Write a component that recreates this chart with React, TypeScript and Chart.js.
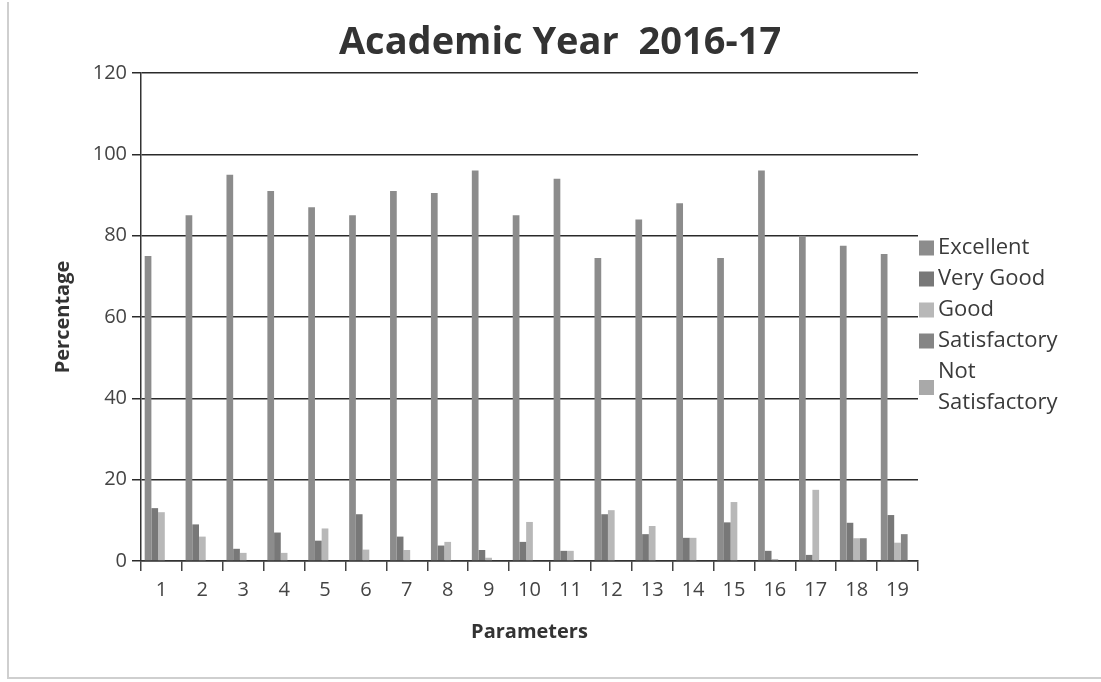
import React, { useEffect, useRef } from "react";
import { Chart, registerables } from "chart.js";

Chart.register(...registerables);

const categories = ["1","2","3","4","5","6","7","8","9","10","11","12","13","14","15","16","17","18","19"];
const seriesNames = ["Excellent", "Very Good", "Good", "Satisfactory", "Not Satisfactory"];
const excellent = [75, 85, 95, 91, 87, 85, 91, 90.5, 96, 85, 94, 74.5, 84, 88, 74.5, 96, 80, 77.5, 75.5];
const veryGood = [13, 9, 3, 7, 5, 11.5, 6, 3.8, 2.7, 4.7, 2.5, 11.5, 6.6, 5.7, 9.5, 2.5, 1.5, 9.4, 11.3];
const good = [12, 6, 2, 2, 8, 2.8, 2.7, 4.7, 0.8, 9.6, 2.5, 12.5, 8.6, 5.7, 14.5, 0.5, 17.5, 5.6, 4.5];
const satisfactory = [0, 0, 0, 0, 0, 0, 0, 0, 0, 0, 0, 0, 0, 0, 0, 0, 0, 5.6, 6.6];
const notSatisfactory = [0, 0, 0, 0, 0, 0, 0, 0, 0, 0, 0, 0, 0, 0, 0, 0, 0, 0, 0];
const seriesColors = ["#8c8c8c", "#787878", "#b8b8b8", "#858585", "#a9a9a9"];
const titleText = "Academic Year  2016-17";

const FONT = "'Open Sans', 'Liberation Sans', sans-serif";

const titlePlugin = {
  id: "customTitle",
  afterDraw(chart: any) {
    const ctx = chart.ctx;
    ctx.save();
    ctx.font = `bold 38px ${FONT}`;
    ctx.fillStyle = "#333333";
    ctx.textAlign = "center";
    ctx.textBaseline = "alphabetic";
    ctx.fillText(titleText, 560, 54);
    ctx.restore();
  },
};

const legendPlugin = {
  id: "customLegend",
  afterDraw(chart: any) {
    const ctx = chart.ctx;
    ctx.save();
    ctx.font = `22px ${FONT}`;
    ctx.textBaseline = "middle";
    ctx.textAlign = "left";
    const x0 = 919;
    const box = 15;
    const lineH = 31;
    let y = 248;
    chart.data.datasets.forEach((ds: any) => {
      const label: string = ds.label;
      const lines = ctx.measureText(label).width > 150 ? label.split(" ") : [label];
      const centerY = y + ((lines.length - 1) * lineH) / 2;
      ctx.fillStyle = ds.backgroundColor;
      ctx.fillRect(x0, centerY - box / 2, box, box);
      ctx.fillStyle = "#3a3a3a";
      lines.forEach((ln: string, i: number) => {
        ctx.fillText(ln, x0 + box + 4, y + i * lineH);
      });
      y += lines.length * lineH;
    });
    ctx.restore();
  },
};

export default function App() {
  const ref = useRef<HTMLCanvasElement>(null);
  useEffect(() => {
    if (!ref.current) return;
    const values = [excellent, veryGood, good, satisfactory, notSatisfactory];
    const chart = new Chart(ref.current, {
      type: "bar",
      data: {
        labels: categories,
        datasets: seriesNames.map((name, i) => ({
          label: name,
          data: values[i],
          backgroundColor: seriesColors[i],
          borderWidth: 0,
          categoryPercentage: 0.82,
          barPercentage: 1.0,
        })),
      },
      options: {
        responsive: false,
        animation: false,
        layout: { padding: { top: 73, right: 183, left: 0, bottom: 0 } },
        plugins: {
          legend: { display: false },
          title: { display: false },
          tooltip: { enabled: false },
        },
        scales: {
          x: {
            afterFit: (scale: any) => { scale.height = 121; },
            grid: {
              display: true,
              drawOnChartArea: false,
              drawTicks: true,
              tickLength: 10,
              offset: true,
              color: "#444444",
              lineWidth: 1.5,
            },
            border: { display: true, color: "#333333", width: 1.5 },
            ticks: {
              color: "#444444",
              font: { family: FONT, size: 20 },
              padding: 7,
              maxRotation: 0,
            },
            title: {
              display: true,
              text: "Parameters",
              color: "#333333",
              font: { family: FONT, size: 20, weight: "bold" },
              padding: { top: 0, bottom: 38 },
            },
          },
          y: {
            min: 0,
            max: 120,
            afterFit: (scale: any) => { scale.width = 141; },
            grid: {
              color: "#2a2a2a",
              lineWidth: 1.5,
              drawTicks: true,
              tickLength: 9,
            },
            border: { display: true, color: "#333333", width: 1.5 },
            ticks: {
              stepSize: 20,
              color: "#444444",
              font: { family: FONT, size: 20 },
              padding: 5,
            },
            title: {
              display: true,
              text: "Percentage",
              color: "#333333",
              font: { family: FONT, size: 20, weight: "bold" },
              padding: { top: 51, bottom: 0 },
            },
          },
        },
      },
      plugins: [titlePlugin, legendPlugin],
    });
    return () => chart.destroy();
  }, []);

  return (
    <div style={{ position: "fixed", left: 0, top: 0, width: 1101, height: 682, background: "#ffffff" }}>
      <div
        style={{
          position: "absolute",
          left: 7,
          top: 2,
          width: 1100,
          height: 677,
          borderLeft: "2px solid #cfcfcf",
          borderBottom: "2px solid #cfcfcf",
          boxSizing: "border-box",
        }}
      />
      <canvas ref={ref} width={1101} height={682} style={{ position: "absolute", left: 0, top: 0 }} />
    </div>
  );
}
